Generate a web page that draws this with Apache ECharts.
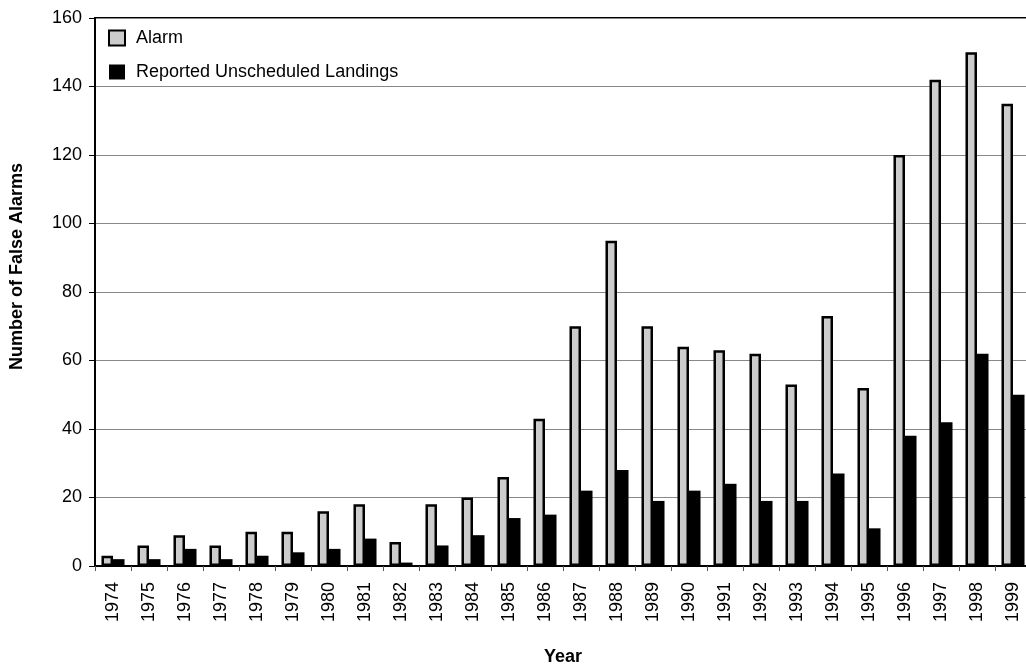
<!DOCTYPE html>
<html>
<head>
<meta charset="utf-8">
<script src="https://cdn.jsdelivr.net/npm/echarts@6/dist/echarts.min.js"></script>
<style>
html,body{margin:0;padding:0;background:#fff;}
#chart{width:1026px;height:669px;}
</style>
</head>
<body>
<div id="chart"></div>
<script>
const years = ['1974','1975','1976','1977','1978','1979','1980','1981','1982','1983','1984','1985','1986','1987','1988','1989','1990','1991','1992','1993','1994','1995','1996','1997','1998','1999'];
const alarm = [3,6,9,6,10,10,16,18,7,18,20,26,43,70,95,70,64,63,62,53,73,52,120,142,150,135];
const landings = [2,2,5,2,3,4,5,8,1,6,9,14,15,22,28,19,22,24,19,19,27,11,38,42,62,50];
const yTicks = [0,20,40,60,80,100,120,140,160];

const font = 'Arial, "Liberation Sans", sans-serif';
const chart = echarts.init(document.getElementById('chart'));
chart.setOption({
  animation: false,
  backgroundColor: '#fff',
  grid: {left: 95, top: 18, bottom: 103, right: -5, outerBoundsMode: 'none', containLabel: false,
         show: true, borderColor: '#000', borderWidth: 2, backgroundColor: 'transparent'},
  legend: {
    orient: 'vertical', left: 103, top: 24, itemGap: 16, itemWidth: 16, itemHeight: 15,
    icon: 'rect',
    textStyle: {fontFamily: font, fontSize: 18, color: '#000', padding: [0,0,0,6]},
    data: ['Alarm', 'Reported Unscheduled Landings']
  },
  xAxis: {
    type: 'category', data: years,
    name: 'Year', nameLocation: 'middle', nameGap: 82,
    nameTextStyle: {fontFamily: font, fontSize: 18, fontWeight: 'bold', color: '#000'},
    axisLine: {lineStyle: {color: '#000', width: 2}},
    axisTick: {show: true, length: 5, lineStyle: {color: '#555'}, alignWithLabel: false},
    axisLabel: {rotate: 90, margin: 16, fontFamily: font, fontSize: 18, color: '#000', interval: 0}
  },
  yAxis: {
    type: 'value', min: yTicks[0], max: yTicks[yTicks.length-1], interval: 20,
    axisLine: {show: true, lineStyle: {color: '#000', width: 2}},
    axisTick: {show: true, length: 6, lineStyle: {color: '#000'}},
    axisLabel: {margin: 13, fontFamily: font, fontSize: 18, color: '#000'},
    splitLine: {lineStyle: {color: '#888', width: 1}}
  },
  graphic: [{
    type: 'text', left: 8, top: 163, rotation: Math.PI/2,
    style: {text: 'Number of False Alarms', font: 'bold 18px ' + font, fill: '#000'}
  }],
  series: [
    {name: 'Alarm', type: 'bar', data: alarm, barGap: '0%', barCategoryGap: '36%',
     itemStyle: {color: '#cccccc', borderColor: '#000', borderWidth: 2.5}},
    {name: 'Reported Unscheduled Landings', type: 'bar', data: landings,
     itemStyle: {color: '#000', borderColor: '#000', borderWidth: 0}}
  ]
});
</script>
</body>
</html>
